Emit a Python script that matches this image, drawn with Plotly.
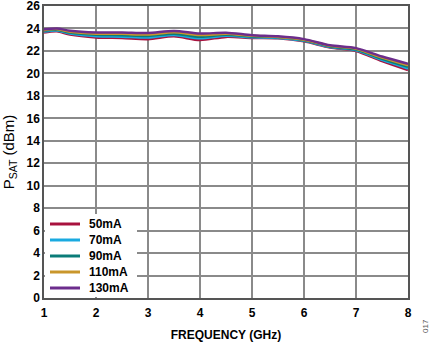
import plotly.graph_objects as go

freq = [1, 1.25, 1.5, 2, 2.5, 3, 3.5, 4, 4.5, 5, 5.5, 6, 6.5, 7, 7.5, 8]
psat_50 = [23.65, 23.75, 23.45, 23.20, 23.15, 23.05, 23.30, 22.97, 23.25, 23.15, 23.12, 22.85, 22.30, 22.00, 21.10, 20.30]
psat_70 = [23.72, 23.82, 23.54, 23.31, 23.27, 23.19, 23.42, 23.12, 23.34, 23.21, 23.16, 22.90, 22.35, 22.06, 21.20, 20.44]
psat_90 = [23.79, 23.88, 23.63, 23.43, 23.40, 23.33, 23.54, 23.26, 23.44, 23.28, 23.21, 22.95, 22.40, 22.12, 21.30, 20.58]
psat_110 = [23.85, 23.94, 23.71, 23.54, 23.52, 23.46, 23.66, 23.41, 23.53, 23.34, 23.25, 23.00, 22.45, 22.19, 21.40, 20.71]
psat_130 = [23.92, 24.00, 23.80, 23.65, 23.65, 23.60, 23.78, 23.55, 23.62, 23.40, 23.30, 23.05, 22.50, 22.25, 21.50, 20.85]

series_names = ["50mA", "70mA", "90mA", "110mA", "130mA"]
series_vals = [psat_50, psat_70, psat_90, psat_110, psat_130]
colors = ["#A8123E", "#1AAAE0", "#0B7C78", "#C9962B", "#6C2D8C"]

x_ticks = [1, 2, 3, 4, 5, 6, 7, 8]
y_ticks = list(range(0, 27, 2))

fig = go.Figure()
for name, vals, c in zip(series_names, series_vals, colors):
    fig.add_trace(go.Scatter(x=freq, y=vals, name=name, mode="lines", showlegend=False,
                             line=dict(color=c, width=2.5, shape="spline", smoothing=0.8)))

font_family = "Liberation Sans, Arial, sans-serif"

# plot area geometry (pixels) used for the in-plot legend layout
W, H = 435, 342
ML, MR, MT, MB = 44, 27, 6, 44
PW, PH = W - ML - MR, H - MT - MB


def px_x(p):
    return (p - ML) / PW


def px_y(p):
    return (H - MB - p) / PH


# legend block: white box hiding the grid, sample lines and labels
shapes = [dict(type="rect", xref="paper", yref="paper", layer="above",
               x0=px_x(ML + 1), x1=px_x(137), y0=px_y(H - MB - 1), y1=px_y(214),
               fillcolor="white", line=dict(width=0))]
annotations = []
row0, row_gap = 224, 16
for i, (name, c) in enumerate(zip(series_names, colors)):
    yy = px_y(row0 + row_gap * i)
    shapes.append(dict(type="line", xref="paper", yref="paper", layer="above",
                       x0=px_x(50), x1=px_x(80), y0=yy, y1=yy,
                       line=dict(color=c, width=3)))
    annotations.append(dict(text=name, xref="paper", yref="paper", x=px_x(87), y=yy,
                            xanchor="left", yanchor="middle", showarrow=False,
                            font=dict(family=font_family, size=12, color="black", weight="bold")))

annotations.append(dict(text="017", xref="paper", yref="paper", x=px_x(425), y=px_y(326),
                        xanchor="center", yanchor="middle", showarrow=False, textangle=-90,
                        font=dict(family=font_family, size=8, color="#555555")))

fig.update_layout(
    width=W, height=H,
    margin=dict(l=ML, r=MR, t=MT, b=MB, autoexpand=False),
    paper_bgcolor="white", plot_bgcolor="white",
    font=dict(family=font_family, size=12, color="black"),
    showlegend=False,
    shapes=shapes,
    annotations=annotations,
    xaxis=dict(range=[1, 8], tickvals=x_ticks, showgrid=True, gridcolor="#8a8a8a", gridwidth=1.5,
               showline=True, linecolor="#555555", linewidth=1.5, mirror=True, zeroline=False,
               automargin=False, ticklabeloverflow="allow",
               ticks="", ticklabelstandoff=3, tickfont=dict(size=12, weight="bold"),
               title=dict(text="FREQUENCY (GHz)", font=dict(size=12, weight="bold"), standoff=17)),
    yaxis=dict(range=[0, 26], tickvals=y_ticks, showgrid=True, gridcolor="#8a8a8a", gridwidth=1.5,
               showline=True, linecolor="#555555", linewidth=1.5, mirror=True, zeroline=False,
               automargin=False, ticklabeloverflow="allow",
               ticks="", tickfont=dict(size=12, weight="bold"),
               title=dict(text="P<sub>SAT</sub> (dBm)", font=dict(size=15), standoff=9)),
)

fig.write_html("out.html")
